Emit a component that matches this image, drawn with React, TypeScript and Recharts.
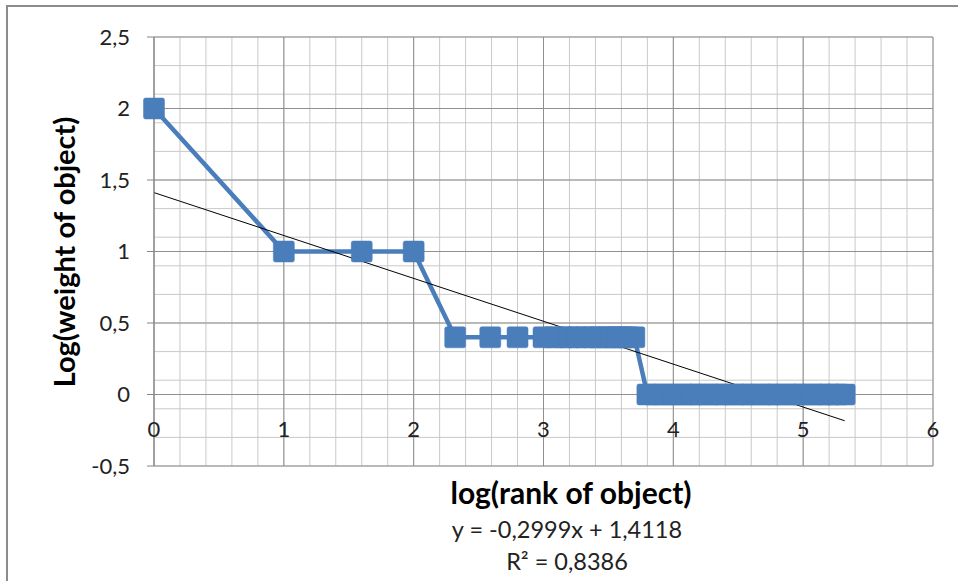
import React from 'react';
import { ComposedChart, Line, XAxis, YAxis, CartesianGrid } from 'recharts';

// log(rank) / log(weight) pairs, grouped by weight level
const rankLevel2 = [0];
const rankLevel1 = [1, 1.6, 2];
const rankLevel04 = [2.32, 2.59, 2.8, 3.0, 3.08, 3.15, 3.2, 3.26, 3.32, 3.38, 3.43, 3.48, 3.53, 3.57, 3.61, 3.65, 3.7];
const rankLevel0 = [3.8, 3.86, 3.93, 4.0, 4.07, 4.14, 4.2, 4.27, 4.34, 4.4, 4.47, 4.54, 4.6, 4.67, 4.74, 4.8, 4.87, 4.94, 5.0, 5.07, 5.14, 5.2, 5.26, 5.32];
const weightLevels = [2, 1, 0.4, 0];

// linear trend, as printed under the chart
const trendSlope = -0.2999;
const trendIntercept = 1.4118;
const trendRange = [0, 5.32];

const xTicks = [0, 1, 2, 3, 4, 5, 6];
const yTicks = [-0.5, 0, 0.5, 1, 1.5, 2, 2.5];

const points = [rankLevel2, rankLevel1, rankLevel04, rankLevel0].flatMap((ranks, i) =>
  ranks.map(x => ({ x, y: weightLevels[i] }))
);
const trendPoints = trendRange.map(x => ({ x, y: trendIntercept + trendSlope * x }));

// minor grid every 0.2 on x, 0.1 on y
const minorX: number[] = [];
for (let i = 0; i <= 30; i++) minorX.push(+(i * 0.2).toFixed(1));
const minorY: number[] = [];
for (let i = -5; i <= 25; i++) minorY.push(+(i * 0.1).toFixed(1));

const FONT = 'Lato, "Open Sans", sans-serif';
const BLUE = '#4a7ebb';

const comma = (v: number) => String(v).replace('.', ',');

const SquareDot = (props: any) => {
  const { cx, cy, index } = props;
  if (cx == null || cy == null) return null;
  return <rect key={`sq-${index}`} x={cx - 10.5} y={cy - 10.5} width={21} height={21} rx={2} fill={BLUE} stroke={BLUE} strokeWidth={0.5} />;
};

// x labels sit just under the zero line rather than at the bottom edge
const XTick = (props: any) => {
  const { x, y, payload } = props;
  return (
    <text x={x} y={y - 46} textAnchor="middle" dominantBaseline="central" fontSize={22} fontFamily={FONT} fill="#222">
      {comma(payload.value)}
    </text>
  );
};

export default function App() {
  return (
    <div style={{ position: 'absolute', left: 0, top: 0, width: 958, height: 581, background: '#fff', overflow: 'hidden' }}>
      <div style={{ position: 'absolute', left: 6, top: 5, width: 960, height: 600, borderLeft: '2px solid #8c8c8c', borderTop: '2px solid #8c8c8c' }} />
      <ComposedChart width={958} height={581} margin={{ top: 37, right: 25, bottom: 85, left: 0 }}>
        <CartesianGrid stroke="#c9c9c9" verticalValues={minorX} horizontalValues={minorY} />
        <CartesianGrid stroke="#8f8f8f" verticalValues={xTicks} horizontalValues={yTicks} />
        <XAxis
          type="number"
          dataKey="x"
          domain={[0, 6]}
          ticks={xTicks}
          height={30}
          axisLine={false}
          tickLine={false}
          tick={<XTick />}
        />
        <YAxis
          type="number"
          width={154}
          domain={[-0.5, 2.5]}
          ticks={yTicks}
          tickFormatter={comma}
          axisLine={{ stroke: '#868686' }}
          tickLine={{ stroke: '#868686' }}
          tickSize={7}
          tickMargin={17}
          tick={{ fontSize: 22, fontFamily: FONT, fill: '#222' }}
        />
        <Line
          data={points}
          dataKey="y"
          type="linear"
          stroke={BLUE}
          strokeWidth={4.5}
          dot={<SquareDot />}
          activeDot={false}
          isAnimationActive={false}
        />
        <Line
          data={trendPoints}
          dataKey="y"
          type="linear"
          stroke="#000"
          strokeWidth={1}
          dot={false}
          activeDot={false}
          isAnimationActive={false}
        />
      </ComposedChart>
      <div style={{ position: 'absolute', left: 63, top: 252, transform: 'translate(-50%, -50%) rotate(-90deg)', whiteSpace: 'nowrap', fontFamily: FONT, fontWeight: 700, fontSize: 29, color: '#000' }}>
        Log(weight of object)
      </div>
      <div style={{ position: 'absolute', left: 571, top: 492, transform: 'translate(-50%, -50%)', whiteSpace: 'nowrap', fontFamily: FONT, fontWeight: 700, fontSize: 30, color: '#000' }}>
        log(rank of object)
      </div>
      <div style={{ position: 'absolute', left: 567, top: 545, transform: 'translate(-50%, -50%)', whiteSpace: 'nowrap', fontFamily: FONT, fontSize: 23.5, lineHeight: '32px', textAlign: 'center', color: '#222' }}>
        <div>y = -0,2999x + 1,4118</div>
        <div>R² = 0,8386</div>
      </div>
    </div>
  );
}
